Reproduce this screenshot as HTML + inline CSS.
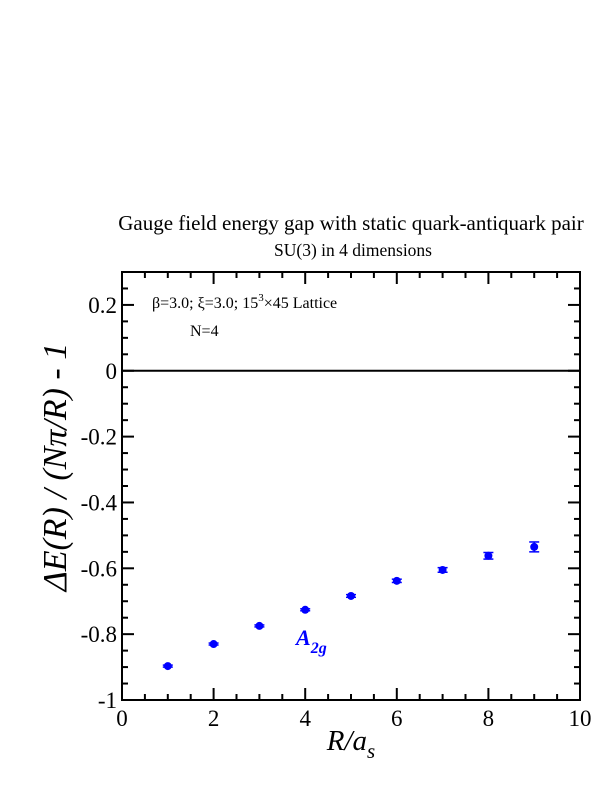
<!DOCTYPE html>
<html><head><meta charset="utf-8"><style>
body{margin:0;background:#fff}
svg text{font-family:"Liberation Serif",serif}
</style></head><body>
<svg id="chart" width="612" height="792" viewBox="0 0 612 792" xmlns="http://www.w3.org/2000/svg">
<text x="351" y="230" font-size="21" text-anchor="middle">Gauge field energy gap with static quark-antiquark pair</text>
<text x="353" y="256" font-size="17.5" text-anchor="middle">SU(3) in 4 dimensions</text>
<g id="axes"></g>
<g id="marks"></g>
<text x="152" y="308" font-size="16">β=3.0;  ξ=3.0;  15<tspan dy="-7" font-size="11">3</tspan><tspan dy="7">×45 Lattice</tspan></text>
<text x="190" y="336" font-size="16">N=4</text>
<text x="296" y="645" font-size="22" font-weight="bold" font-style="italic" fill="#0000ff">A<tspan dy="8" font-size="16">2g</tspan></text>
<text x="351" y="750" font-size="29" text-anchor="middle" font-style="italic">R/a<tspan dy="8" font-size="21">s</tspan></text>
<text transform="translate(66,467) rotate(-90)" font-size="34" text-anchor="middle" font-style="italic">ΔE(R) / (Nπ/R) - 1</text>
</svg>
<script>
const xValues=[1,2,3,4,5,6,7,8,9];
const yValues=[-0.897,-0.830,-0.775,-0.726,-0.684,-0.638,-0.605,-0.562,-0.535];
const yErrors=[0.003,0.003,0.003,0.003,0.004,0.005,0.007,0.010,0.015];
const xTicks=[0,2,4,6,8,10];
const yTicks=[-1,-0.8,-0.6,-0.4,-0.2,0,0.2];
const yTickLabels=["-1","-0.8","-0.6","-0.4","-0.2","0","0.2"];
const X0=122,X1=580,Y0=700,Y1=272;
const xs=v=>X0+(v-0)/10*(X1-X0);
const ys=v=>Y0-(v+1)/1.3*(Y0-Y1);
const NS="http://www.w3.org/2000/svg";
const ax=document.getElementById('axes'),mk=document.getElementById('marks');
function mkEl(t,a,p){const e=document.createElementNS(NS,t);for(const k in a)e.setAttribute(k,a[k]);p.appendChild(e);return e;}
let fr=mkEl('rect',{x:X0,y:Y1,width:X1-X0,height:Y0-Y1,fill:'none',stroke:'#000','stroke-width':2},ax);


let zl=mkEl('line',{x1:X0,x2:X1,y1:ys(0),y2:ys(0),stroke:'#000','stroke-width':2},ax);


for(let v=0;v<=10.001;v+=0.5){const maj=Math.abs(v/2-Math.round(v/2))<1e-6;const L=maj?12:6,x=xs(v);
 mkEl('line',{x1:x,x2:x,y1:Y0,y2:Y0-L,stroke:'#000','stroke-width':2},ax);
 mkEl('line',{x1:x,x2:x,y1:Y1,y2:Y1+L,stroke:'#000','stroke-width':2},ax);}
for(let i=0;i<=26;i++){const v=-1+i*0.05;const maj=i%4===0;const L=maj?12:6,y=ys(v);
 mkEl('line',{x1:X0,x2:X0+L,y1:y,y2:y,stroke:'#000','stroke-width':2},ax);
 mkEl('line',{x1:X1,x2:X1-L,y1:y,y2:y,stroke:'#000','stroke-width':2},ax);}
xTicks.forEach(v=>{const t=mkEl('text',{x:xs(v),y:Y0+26,'font-size':23,'text-anchor':'middle'},ax);t.textContent=v;
 
 });
yTicks.forEach((v,i)=>{const t=mkEl('text',{x:X0-5,y:ys(v)+8,'font-size':23,'text-anchor':'end'},ax);t.textContent=yTickLabels[i];
 
 });
xValues.forEach((xv,i)=>{const x=xs(xv),y=ys(yValues[i]),e=yErrors[i];
 const g=mkEl('g',{},mk);
 
 
 mkEl('line',{x1:x,x2:x,y1:ys(yValues[i]+e),y2:ys(yValues[i]-e),stroke:'#0000ff','stroke-width':1.5},g);
 mkEl('line',{x1:x-5,x2:x+5,y1:ys(yValues[i]+e),y2:ys(yValues[i]+e),stroke:'#0000ff','stroke-width':1.5},g);
 mkEl('line',{x1:x-5,x2:x+5,y1:ys(yValues[i]-e),y2:ys(yValues[i]-e),stroke:'#0000ff','stroke-width':1.5},g);
 mkEl('circle',{cx:x,cy:y,r:4,fill:'#0000ff'},g);});
</script>
</body></html>
